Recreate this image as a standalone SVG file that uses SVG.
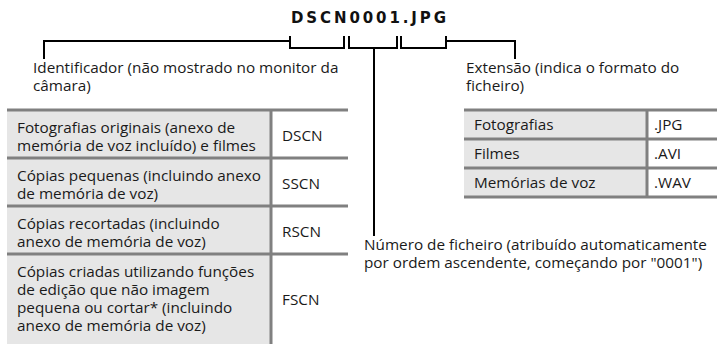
<svg xmlns="http://www.w3.org/2000/svg" width="719" height="344" viewBox="0 0 719 344">
<style>
text{font-family:"Open Sans","Noto Sans","Liberation Sans",sans-serif;font-size:15.3px;fill:#1a1a1a}
.title{font-family:"DejaVu Sans","Open Sans",sans-serif;font-weight:bold;font-size:15px;fill:#111}
.ln{fill:none;stroke:#000;stroke-width:2}
.cell{fill:#e6e6e6}
.code{fill:#fff}
.bd{stroke:#808080;stroke-width:3;fill:none}
</style>
<rect width="719" height="344" fill="#fff"/>
<g id="filename">
<text class="title" x="291" y="23" textLength="155" lengthAdjust="spacing">DSCN0001.JPG</text>
</g>
<g id="connectors">
<path class="ln" d="M290,36 V48 H344 V36"/>
<path class="ln" d="M349,36 V48 H397 V36"/>
<path class="ln" d="M401,36 V48 H446 V36"/>
<path class="ln" d="M44,59 V41 H290"/>
<path class="ln" d="M446,41 H515 V59"/>
<path class="ln" d="M374,48 V236"/>
</g>
<g id="identificador">
<text x="33" y="73">Identificador (não mostrado no monitor da</text>
<text x="33" y="91">câmara)</text>
</g>
<g id="extensao">
<text x="466" y="73">Extensão (indica o formato do</text>
<text x="466" y="91">ficheiro)</text>
</g>
<g id="numero">
<text x="364" y="250">Número de ficheiro (atribuído automaticamente</text>
<text x="364" y="268">por ordem ascendente, começando por "0001")</text>
</g>
<g id="tabela-identificador">
<rect class="cell" x="7" y="110" width="264" height="236"/>
<rect class="code" x="271" y="110" width="77" height="236"/>
<path class="bd" d="M7,110 H348 M7,158 H348 M7,206 H348 M7,254 H348 M271,110 V346"/>
<text x="17" y="133">Fotografias originais (anexo de</text>
<text x="17" y="151">memória de voz incluído) e filmes</text>
<text x="282" y="141">DSCN</text>
<text x="17" y="181">Cópias pequenas (incluindo anexo</text>
<text x="17" y="199">de memória de voz)</text>
<text x="282" y="189">SSCN</text>
<text x="17" y="229">Cópias recortadas (incluindo</text>
<text x="17" y="247">anexo de memória de voz)</text>
<text x="282" y="237">RSCN</text>
<text x="17" y="277">Cópias criadas utilizando funções</text>
<text x="17" y="295">de edição que não imagem</text>
<text x="17" y="313">pequena ou cortar* (incluindo</text>
<text x="17" y="331">anexo de memória de voz)</text>
<text x="282" y="305">FSCN</text>
</g>
<g id="tabela-extensao">
<rect class="cell" x="464" y="110" width="183" height="87"/>
<rect class="code" x="647" y="110" width="70" height="87"/>
<path class="bd" d="M464,110 H717 M464,139 H717 M464,168 H717 M464,197 H717 M647,110 V197"/>
<text x="474" y="130">Fotografias</text>
<text x="474" y="159">Filmes</text>
<text x="474" y="188">Memórias de voz</text>
<text x="654" y="130">.JPG</text>
<text x="654" y="159">.AVI</text>
<text x="654" y="188">.WAV</text>
</g>
</svg>
